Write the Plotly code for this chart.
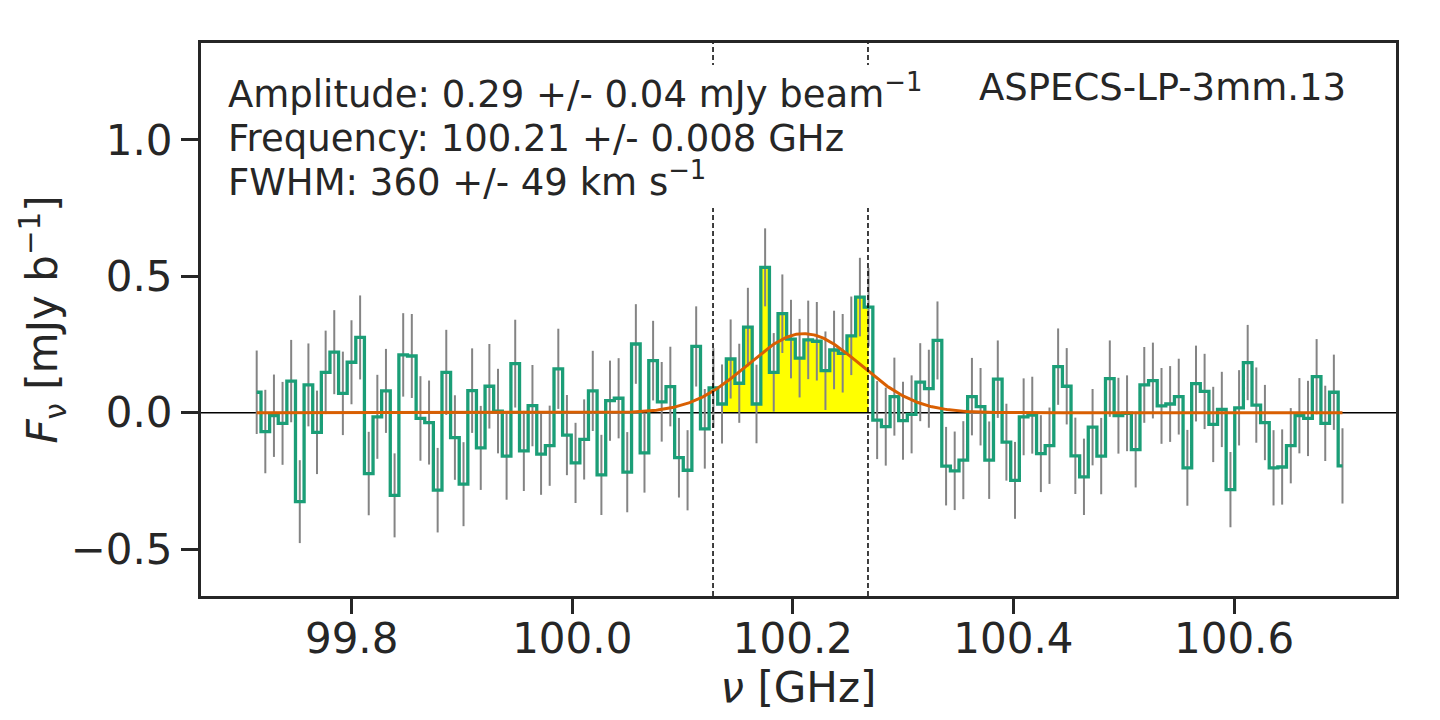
import numpy as np
import plotly.graph_objects as go

# ---------------- data ----------------
freq_start = 99.7139          # GHz, first channel centre
channel_width = 0.0078125     # GHz

flux = [
    0.075, -0.069, -0.011, -0.039, 0.116, -0.326, 0.102, -0.072, 0.148, 0.222,
    0.071, 0.185, 0.276, -0.223, -0.015, 0.080, -0.303, 0.212, 0.208, -0.021,
    -0.036, -0.284, 0.148, -0.091, -0.262, 0.081, -0.129, 0.097, 0.006, -0.159,
    0.180, -0.140, 0.026, -0.152, -0.121, 0.161, -0.082, -0.184, -0.098, 0.080,
    -0.228, 0.044, 0.053, -0.218, 0.252, -0.147, 0.191, 0.040, 0.096, -0.165,
    -0.211, 0.243, -0.059, 0.091, 0.032, 0.197, 0.108, 0.314, 0.032, 0.533,
    0.148, 0.363, 0.270, 0.200, 0.267, 0.262, 0.154, 0.230, 0.218, 0.282,
    0.424, 0.387, -0.027, -0.051, 0.059, -0.029, -0.006, 0.112, 0.088, 0.265,
    -0.196, -0.213, -0.174, 0.059, 0.022, -0.174, 0.123, -0.108, -0.248, -0.015,
    -0.009, -0.150, -0.121, 0.169, 0.097, -0.158, -0.235, -0.053, -0.159, 0.125,
    -0.011, -0.002, -0.135, 0.102, 0.118, 0.025, 0.032, 0.059, -0.202, 0.107,
    0.078, -0.043, 0.012, -0.282, 0.018, 0.184, 0.028, -0.036, -0.202, -0.199,
    -0.121, -0.011, -0.021, 0.132, -0.039, 0.075, -0.195,
]

flux_err = [
    0.153, 0.153, 0.151, 0.152, 0.151, 0.152, 0.152, 0.153, 0.153, 0.154,
    0.153, 0.154, 0.154, 0.153, 0.154, 0.154, 0.154, 0.153, 0.154, 0.155,
    0.154, 0.155, 0.156, 0.155, 0.154, 0.155, 0.154, 0.155, 0.155, 0.160,
    0.161, 0.147, 0.149, 0.149, 0.147, 0.147, 0.147, 0.147, 0.147, 0.147,
    0.147, 0.147, 0.147, 0.147, 0.146, 0.146, 0.146, 0.146, 0.146, 0.146,
    0.147, 0.147, 0.146, 0.146, 0.145, 0.145, 0.145, 0.144, 0.144, 0.143,
    0.144, 0.144, 0.144, 0.144, 0.144, 0.144, 0.144, 0.144, 0.144, 0.144,
    0.144, 0.144, 0.143, 0.143, 0.143, 0.143, 0.143, 0.143, 0.143, 0.143,
    0.144, 0.144, 0.143, 0.142, 0.142, 0.142, 0.142, 0.141, 0.141, 0.141,
    0.141, 0.141, 0.140, 0.140, 0.140, 0.140, 0.140, 0.140, 0.140, 0.140,
    0.139, 0.139, 0.139, 0.139, 0.139, 0.139, 0.139, 0.139, 0.139, 0.139,
    0.138, 0.138, 0.138, 0.138, 0.138, 0.138, 0.138, 0.138, 0.138, 0.138,
    0.138, 0.138, 0.138, 0.138, 0.138, 0.138, 0.138,
]

line_first_channel = 54       # yellow-highlighted channels (inclusive)
line_last_channel = 71
window_lo = 100.1276          # dashed line positions, GHz
window_hi = 100.2681

fit_amplitude = 0.29          # mJy/beam
fit_center = 100.21           # GHz
fit_fwhm_kms = 360.0          # km/s

source_name = "ASPECS-LP-3mm.13"
x_ticks = [99.8, 100.0, 100.2, 100.4, 100.6]
y_ticks = [-0.5, 0.0, 0.5, 1.0]
x_range = [99.6634, 100.7468]
y_range = [-0.672, 1.3556]

# ---------------- derived ----------------
freq = freq_start + channel_width * np.arange(len(flux))
c_kms = 299792.458
sigma = fit_fwhm_kms / c_kms * fit_center / (2 * np.sqrt(2 * np.log(2)))
model_x = np.linspace(freq[0], freq[-1], 800)
model_y = fit_amplitude * np.exp(-0.5 * ((model_x - fit_center) / sigma) ** 2)

DARK = "#262626"
FONT = "DejaVu Sans"

fig = go.Figure()

# yellow fill of line channels
sl = slice(line_first_channel, line_last_channel + 1)
fig.add_trace(go.Scatter(
    x=freq[sl], y=np.array(flux)[sl], mode="lines", line=dict(width=0, shape="hvh"),
    fill="tozeroy", fillcolor="#ffff00", hoverinfo="skip", showlegend=False))

# zero line
fig.add_trace(go.Scatter(x=x_range, y=[0, 0], mode="lines",
                         line=dict(color="black", width=1.5), showlegend=False))

# error bars
fig.add_trace(go.Scatter(
    x=freq, y=flux, mode="markers",
    marker=dict(size=1, color="rgba(0,0,0,0)"),
    error_y=dict(type="data", array=flux_err, visible=True, color="#848484",
                 thickness=2, width=0),
    showlegend=False))

# spectrum step
fig.add_trace(go.Scatter(x=freq, y=flux, mode="lines",
                         line=dict(color="#1b9e77", width=3.3, shape="hvh"),
                         showlegend=False))

# gaussian fit
fig.add_trace(go.Scatter(x=model_x, y=model_y, mode="lines",
                         line=dict(color="#d95f02", width=3), showlegend=False))

# empty trace to anchor the tick-mark overlay axis
fig.add_trace(go.Scatter(x=[], y=[], xaxis="x2", yaxis="y", showlegend=False,
                         hoverinfo="skip"))

shapes = []
for xv in (window_lo, window_hi):
    shapes.append(dict(type="line", xref="x", yref="paper", x0=xv, x1=xv, y0=0, y1=1,
                       line=dict(color="black", width=1.5, dash="5px,3px"), layer="above"))
# white text box behind the fit annotation
shapes.append(dict(type="rect", xref="paper", yref="paper", x0=0.01, x1=0.62,
                   y0=0.7016, y1=0.960, fillcolor="white", line=dict(width=0),
                   layer="above"))

ann_font = dict(family=FONT, size=37, color=DARK)
lines = [
    ("Amplitude: 0.29 +/- 0.04 mJy beam<sup>\u22121</sup>", 0.867),
    ("Frequency: 100.21 +/- 0.008 GHz", 0.786),
    ("FWHM: 360 +/- 49 km s<sup>\u22121</sup>", 0.7065),
]
annotations = []
for txt, yy in lines:
    annotations.append(dict(text=txt, xref="paper", yref="paper", x=0.0215, y=yy,
                            xanchor="left", yanchor="bottom", showarrow=False,
                            font=ann_font, align="left", borderpad=0))
annotations.append(dict(text=source_name, xref="paper", yref="paper", x=0.9593, y=0.8794,
                        xanchor="right", yanchor="bottom", showarrow=False, font=ann_font,
                        borderpad=0))

fig.update_layout(
    width=1440, height=720,
    margin=dict(l=201, r=44, t=43, b=124),
    paper_bgcolor="white", plot_bgcolor="white",
    # main x axis: frame, labels and title (tick marks invisible, shorter so labels sit closer)
    xaxis=dict(range=x_range, tickvals=x_ticks, tickformat=".1f",
               showline=True, linecolor=DARK, linewidth=3, mirror=True,
               ticks="outside", ticklen=4, tickwidth=3, tickcolor="rgba(0,0,0,0)",
               showgrid=False, zeroline=False,
               tickfont=dict(family=FONT, size=42, color=DARK),
               title=dict(text="<i>\u03bd</i> [GHz]", font=dict(family=FONT, size=42, color=DARK),
                          standoff=9)),
    # overlay axis carrying the visible tick marks
    xaxis2=dict(range=x_range, tickvals=x_ticks, overlaying="x", anchor="y", side="bottom",
                showline=False, showticklabels=False, showgrid=False, zeroline=False,
                ticks="outside", ticklen=17, tickwidth=3, tickcolor=DARK),
    yaxis=dict(range=y_range, tickvals=y_ticks, tickformat=".1f",
               showline=True, linecolor=DARK, linewidth=3, mirror=True,
               ticks="outside", ticklen=17, tickwidth=3, tickcolor=DARK,
               showgrid=False, zeroline=False,
               tickfont=dict(family=FONT, size=42, color=DARK),
               title=dict(text="<i>F</i><sub>\u03bd</sub> [mJy b<sup>\u22121</sup>]",
                          font=dict(family=FONT, size=42, color=DARK), standoff=0)),
    shapes=shapes, annotations=annotations, showlegend=False,
)

fig.write_html("out.html")
